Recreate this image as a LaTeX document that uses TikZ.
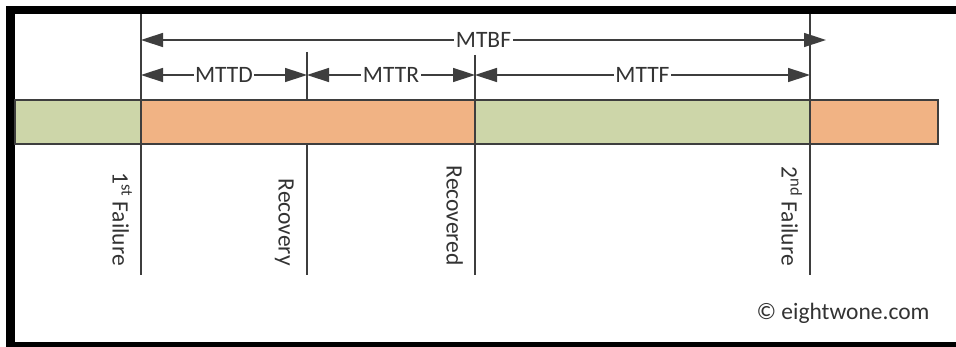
\documentclass[tikz,border=0pt]{standalone}
\usepackage{fontspec}
\setmainfont{Carlito}
\usetikzlibrary{arrows.meta}
\definecolor{upgreen}{HTML}{CDD6A9}
\definecolor{downorange}{HTML}{F1B384}
\definecolor{edgegray}{HTML}{3E3E3E}
\definecolor{txtgray}{HTML}{333333}
\tikzset{
  seg/.style={draw=edgegray, line width=1.6pt},
  tick/.style={draw=edgegray, line width=1.5pt},
  dimarrow/.style={draw=edgegray, line width=1.5pt, {Triangle[length=22pt,width=14pt]}-{Triangle[length=22pt,width=14pt]}},
  dimlabel/.style={fill=white, inner sep=1.5pt, text=txtgray, font=\fontsize{23.5}{27}\selectfont},
  evlabel/.style={rotate=-90, anchor=base east, inner sep=0pt, text=txtgray, font=\fontsize{23.5}{27}\selectfont},
}
\begin{document}
\begin{tikzpicture}[x=1pt,y=-1pt]
\useasboundingbox (0,0) rectangle (956,347);
\fill[white] (0,0) rectangle (956,347);
% frame
\fill[black] (6,6) rectangle (956,14);
\fill[black] (6,6) rectangle (15,347);
\fill[black] (6,342) rectangle (956,347);
% time points
\coordinate (f1) at (141,75);
\coordinate (rc) at (307,75);
\coordinate (rd) at (475,75);
\coordinate (f2) at (810,75);
\coordinate (bfend) at (826,40);
% vertical ticks
\draw[tick] (141,14) -- (141,275);
\draw[tick] (307,52) -- (307,275);
\draw[tick] (475,55) -- (475,275);
\draw[tick] (810,14) -- (810,275);
% bar
\draw[seg, fill=upgreen] (15,100) rectangle (141,144);
\draw[seg, fill=downorange] (141,100) rectangle (475,144);
\draw[seg, fill=upgreen] (475,100) rectangle (810,144);
\draw[seg, fill=downorange] (810,100) rectangle (938,144);
% dimension arrows
\coordinate (bfstart) at (141,40);
\draw[dimarrow] (bfstart) -- node[dimlabel] (mtbf) {MTBF} (bfend);
\draw[dimarrow] (f1) -- node[dimlabel] (mttd) {MTTD} (rc);
\draw[dimarrow] (rc) -- node[dimlabel] (mttr) {MTTR} (rd);
\draw[dimarrow] (rd) -- node[dimlabel] (mttf) {MTTF} (f2);
% event labels
\node[evlabel] (l1) at (112.5,266) {1\textsuperscript{st} Failure};
\node[evlabel] (l2) at (278.5,266) {Recovery};
\node[evlabel] (l3) at (446.5,266) {Recovered};
\node[evlabel] (l4) at (781.5,266) {2\textsuperscript{nd} Failure};
% copyright
\node[anchor=base, inner sep=0pt, text=txtgray, font=\fontsize{23.5}{27}\selectfont] (copy) at (843,320) {© eightwone.com};
\end{tikzpicture}
\end{document}
